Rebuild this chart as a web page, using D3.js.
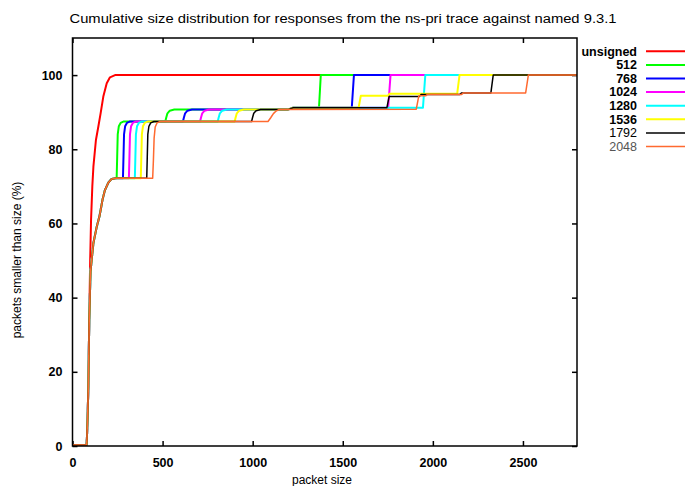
<!DOCTYPE html>
<html><head><meta charset="utf-8">
<script src="https://cdn.jsdelivr.net/npm/d3@7"></script>
<style>body{margin:0;background:#fff}svg{display:block}text{font-family:"Liberation Sans",Arial,Helvetica,sans-serif}</style>
</head><body>
<script>
const titleText = "Cumulative size distribution for responses from the ns-pri trace against named 9.3.1";
const xTicks = [0, 500, 1000, 1500, 2000, 2500];
const yTicks = [0, 20, 40, 60, 80, 100];
const seriesNames = ["unsigned", "512", "768", "1024", "1280", "1536", "1792", "2048"];
const seriesColors = ["#ff0000", "#00ff00", "#0000ff", "#ff00ff", "#00ffff", "#ffff00", "#000000", "#ff6a30"];

// shared start of all signed curves (size, percent)
const baseX = [0, 78, 80, 84, 88, 93, 100, 106, 116, 134, 150, 167, 180, 199, 217, 240];
const baseY = [0.3, 0.3, 2, 8, 16, 34, 47, 50, 54.7, 59, 62, 66.5, 69, 71, 72, 72.2];

const unsignedX = [0, 78, 80, 84, 88, 93, 98, 103, 110, 116, 130, 143, 156, 171, 190, 208, 236, 2800];
const unsignedY = [0.3, 0.3, 2, 8, 16, 34, 50, 61, 70, 75.3, 82.5, 86, 89.7, 94.2, 97.8, 99.4, 100, 100];

const s512X = [245, 248, 251, 257, 267, 285, 515, 520, 527, 540, 565, 1195, 1225, 1368, 1378, 2800];
const s512Y = [72.2, 78, 84, 86.2, 87.1, 87.5, 87.5, 88.5, 89.7, 90.4, 90.7, 90.7, 91.2, 91.2, 100, 100];

const s768X = [280, 283, 286, 292, 302, 320, 613, 618, 625, 638, 663, 1195, 1225, 1550, 1562, 2800];
const s768Y = [72.2, 78, 84, 86.2, 87.1, 87.5, 87.5, 88.5, 89.7, 90.4, 90.7, 90.7, 91.2, 91.2, 100, 100];

const s1024X = [313, 316, 319, 325, 335, 353, 708, 713, 720, 733, 758, 1195, 1225, 1752, 1765, 2800];
const s1024Y = [72.2, 78, 84, 86.2, 87.1, 87.5, 87.5, 88.5, 89.7, 90.4, 90.7, 90.7, 91.2, 91.2, 100, 100];

const s1280X = [346, 349, 352, 358, 368, 386, 806, 811, 818, 831, 856, 1195, 1225, 1945, 1958, 2800];
const s1280Y = [72.2, 78, 84, 86.2, 87.1, 87.5, 87.5, 88.5, 89.7, 90.4, 90.7, 90.7, 91.2, 91.2, 100, 100];

const s1536X = [379, 382, 385, 391, 401, 419, 900, 905, 912, 925, 950, 1195, 1225, 1588, 1600, 1750, 1760, 2135, 2148, 2800];
const s1536Y = [72.2, 78, 84, 86.2, 87.1, 87.5, 87.5, 88.5, 89.7, 90.4, 90.7, 90.7, 91.2, 91.2, 94.4, 94.4, 95.0, 95.0, 100, 100];

const s1792X = [412, 415, 418, 424, 434, 452, 994, 999, 1006, 1019, 1044, 1195, 1225, 1745, 1757, 1925, 1935, 2150, 2160, 2322, 2335, 2800];
const s1792Y = [72.2, 78, 84, 86.2, 87.1, 87.5, 87.5, 88.5, 89.7, 90.4, 90.7, 90.7, 91.2, 91.2, 94.2, 94.2, 94.8, 94.8, 95.2, 95.2, 100, 100];

const s2048X = [445, 449, 453, 459, 469, 487, 1085, 1100, 1115, 1130, 1145, 1908, 1922, 1960, 1970, 2160, 2170, 2515, 2530, 2800];
const s2048Y = [72.2, 77, 83, 86, 87.1, 87.5, 87.5, 88.5, 89.6, 90.3, 90.7, 90.8, 94.4, 94.4, 94.8, 94.8, 95.2, 95.2, 100, 100];

const W = 685, H = 486;
const L = 72.5, R = 577, T = 38, B = 446;
const svg = d3.select("body").append("svg").attr("width", W).attr("height", H);
const x = d3.scaleLinear().domain([0, 2800]).range([L, R]);
const y = d3.scaleLinear().domain([0, 110]).range([B, T]);

function pts(xs, ys) { return xs.map((v, i) => [v, ys[i]]); }
const series = [
  pts(unsignedX, unsignedY),
  pts(baseX.concat(s512X), baseY.concat(s512Y)),
  pts(baseX.concat(s768X), baseY.concat(s768Y)),
  pts(baseX.concat(s1024X), baseY.concat(s1024Y)),
  pts(baseX.concat(s1280X), baseY.concat(s1280Y)),
  pts(baseX.concat(s1536X), baseY.concat(s1536Y)),
  pts(baseX.concat(s1792X), baseY.concat(s1792Y)),
  pts(baseX.concat(s2048X), baseY.concat(s2048Y))
];
const widths = [2, 2, 2, 2, 2, 2, 1.5, 1.5];

// title
svg.append("text").attr("x", 343).attr("y", 23).attr("text-anchor", "middle")
  .attr("font-size", 12.5).attr("textLength", 547).attr("lengthAdjust", "spacingAndGlyphs")
  .text(titleText);

// axes with inward ticks
const tk = 5;
const gx = svg.append("g").attr("transform", `translate(0,${B})`)
  .call(d3.axisBottom(x).tickValues(xTicks).tickSize(-tk).tickPadding(10).tickFormat(d3.format("d")));
const gxt = svg.append("g").attr("transform", `translate(0,${T})`)
  .call(d3.axisTop(x).tickValues(xTicks).tickSize(-tk).tickFormat(""));
const gy = svg.append("g").attr("transform", `translate(${L},0)`)
  .call(d3.axisLeft(y).tickValues(yTicks).tickSize(-tk).tickPadding(10));
const gyr = svg.append("g").attr("transform", `translate(${R},0)`)
  .call(d3.axisRight(y).tickValues(yTicks).tickSize(-tk).tickFormat(""));
[gx, gxt, gy, gyr].forEach(g => {
  g.select(".domain").remove();
  g.selectAll("line").attr("stroke", "#000").attr("stroke-width", 1.5);
  g.selectAll("text").attr("font-size", 12.5).attr("font-weight", "bold").attr("fill", "#000")
    .style("font-family", '"Liberation Sans",Arial,sans-serif');
});
gx.selectAll("text").attr("dy", "0.9em");

// data lines
const line = d3.line().x(d => x(d[0])).y(d => y(d[1]));
svg.append("defs").append("clipPath").attr("id", "clip")
  .append("rect").attr("x", L).attr("y", T).attr("width", R - L).attr("height", B - T);
const gl = svg.append("g").attr("clip-path", "url(#clip)");
series.forEach((s, i) => {
  gl.append("path").attr("d", line(s)).attr("fill", "none")
    .attr("stroke", seriesColors[i]).attr("stroke-width", widths[i])
    .attr("stroke-linejoin", "round");
});

// border
svg.append("rect").attr("x", L).attr("y", T).attr("width", R - L).attr("height", B - T)
  .attr("fill", "none").attr("stroke", "#000").attr("stroke-width", 1.5);

// axis labels
svg.append("text").attr("x", 322).attr("y", 484).attr("text-anchor", "middle")
  .attr("font-size", 12).text("packet size");
svg.append("text").attr("transform", "translate(21,260) rotate(-90)").attr("text-anchor", "middle")
  .attr("font-size", 12).text("packets smaller than size (%)");

// legend
const legY0 = 51.3, legDy = 13.6;
seriesNames.forEach((n, i) => {
  const yy = legY0 + i * legDy;
  svg.append("text").attr("x", 637).attr("y", yy).attr("dy", "0.35em").attr("text-anchor", "end")
    .attr("font-size", 12.5).attr("font-weight", i < 6 ? "bold" : "normal")
    .attr("fill", i === 7 ? "#555" : "#000").text(n);
  svg.append("line").attr("x1", 646).attr("x2", 688).attr("y1", yy).attr("y2", yy)
    .attr("stroke", seriesColors[i]).attr("stroke-width", widths[i]);
});
</script>
</body></html>
